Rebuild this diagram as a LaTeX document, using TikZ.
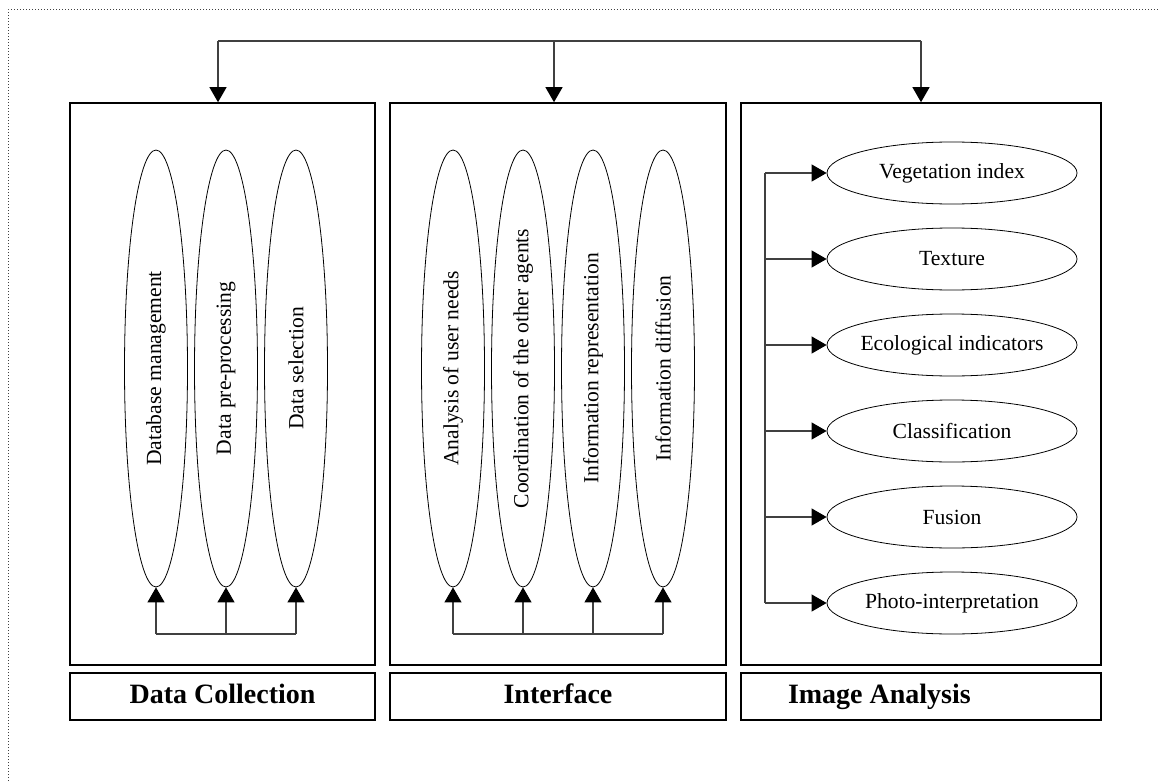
\documentclass[tikz,border=0pt]{standalone}
\usepackage{fontspec}
\usepackage{graphicx}
\setmainfont{Liberation Serif}
\usetikzlibrary{arrows.meta,shapes.geometric}

\tikzset{
  panel/.style={draw=black,line width=1.6pt,minimum width=#1,minimum height=562pt,inner sep=0pt},
  lblbox/.style={draw=black,line width=1.6pt,minimum width=#1,minimum height=47pt,inner sep=0pt,
    text height=20pt,text depth=6pt,font=\fontsize{28}{32}\selectfont\bfseries},
  tallell/.style={draw,ellipse,line width=0.8pt,minimum width=63pt,minimum height=437pt,inner sep=0pt,
    font=\fontsize{21.6}{26}\selectfont},
  flatell/.style={draw,ellipse,line width=0.8pt,minimum width=250pt,minimum height=62pt,inner sep=0pt,
    font=\fontsize{21.6}{26}\selectfont},
  conn/.style={draw=black!75,line width=1.1pt},
  headarr/.style={-{Triangle[length=15pt,width=17pt,color=black,fill=black]}}
}

\begin{document}
\begin{tikzpicture}[x=1pt,y=-1pt]

\useasboundingbox (0,0) rectangle (1158,781);

% Draw the dotted frame
\draw[black!75,line width=1pt,dash pattern=on 1pt off 2pt] (8,781) -- (8,10) -- (1158,10);

% Draw the three panels
\node[panel=305pt] (dc) at (222.5,384) {};
\node[panel=336pt] (intf) at (558,384) {};
\node[panel=360pt] (ia) at (921,384) {};

% Panel titles
\node[lblbox=305pt] (dclbl) at (222.5,696.5) {Data Collection};
\node[lblbox=336pt] (intflbl) at (558,696.5) {Interface};
\node[lblbox=360pt] (ialbl) at (921,696.5) {\makebox[360pt][l]{\hspace{47pt}Image Analysis}};

% Arrows from the top bus into the panels
\coordinate (bus) at (0,41);
\draw[conn] ([xshift=-4.5pt]dc.north |- bus) -- (ia.north |- bus);
\foreach \p/\s in {dc/-4.5,intf/-4,ia/0}
  \draw[conn,headarr] ([xshift=\s pt]\p.north |- bus) -- ([xshift=\s pt]\p.north);

% Data Collection ellipses
\foreach \n/\x/\t in {dbm/156/Database management,dpre/226/Data pre-processing,dsel/296/Data selection}
  \node[tallell] (\n) at (\x,368.5) {\rotatebox{90}{\t}};
\coordinate (dcbus) at (0,634);
\draw[conn] (dbm.south |- dcbus) -- (dsel.south |- dcbus);
\foreach \n in {dbm,dpre,dsel} \draw[conn,headarr] (\n.south |- dcbus) -- (\n.south);

% Interface ellipses
\foreach \n/\x/\t in {needs/453/Analysis of user needs,coord/523/Coordination of the other agents,
  repr/593/Information representation,diff/663/Information diffusion}
  \node[tallell] (\n) at (\x,368.5) {\rotatebox{90}{\t}};
\coordinate (intfbus) at (0,634);
\draw[conn] (needs.south |- intfbus) -- (diff.south |- intfbus);
\foreach \n in {needs,coord,repr,diff} \draw[conn,headarr] (\n.south |- intfbus) -- (\n.south);

% Image Analysis ellipses
\foreach \n/\y/\t in {veg/173/Vegetation index,tex/259/Texture,eco/345/Ecological indicators,
  cls/431/Classification,fus/517/Fusion,photo/603/Photo-interpretation}
  \node[flatell] (\n) at (952,\y) {\makebox[0pt]{\t}};
\coordinate (iaspine) at (765,0);
\draw[conn] (veg.west -| iaspine) -- (photo.west -| iaspine);
\foreach \n in {veg,tex,eco,cls,fus,photo} \draw[conn,headarr] (\n.west -| iaspine) -- (\n.west);

\end{tikzpicture}
\end{document}
